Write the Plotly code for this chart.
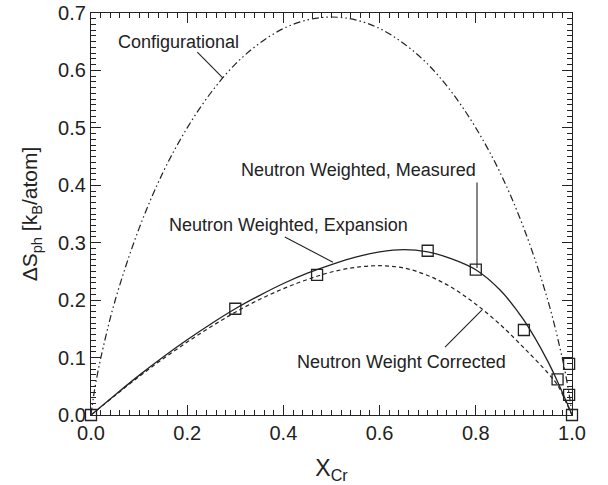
import plotly.graph_objects as go

# ---- data ----
x_curve = [0, 0.05, 0.1, 0.15, 0.2, 0.25, 0.3, 0.35, 0.4, 0.45, 0.5, 0.55,
           0.6, 0.65, 0.7, 0.75, 0.8, 0.85, 0.9, 0.95, 0.97, 0.99, 1.0]
y_expansion = [0, 0.035, 0.069, 0.101, 0.131, 0.159, 0.185, 0.208, 0.229, 0.247,
               0.262, 0.275, 0.284, 0.288, 0.284, 0.272, 0.253, 0.218, 0.165,
               0.093, 0.058, 0.02, 0]
y_corrected = [0, 0.034, 0.067, 0.098, 0.127, 0.154, 0.179, 0.201, 0.22, 0.236,
               0.249, 0.257, 0.26, 0.256, 0.243, 0.222, 0.193, 0.158, 0.117,
               0.073, 0.052, 0.018, 0]

x_config = [0, 0.005, 0.01, 0.02, 0.05, 0.1, 0.15, 0.2, 0.25, 0.3, 0.35, 0.4, 0.45, 0.5,
            0.55, 0.6, 0.65, 0.7, 0.75, 0.8, 0.85, 0.9, 0.95, 0.98, 0.99, 0.995, 1.0]
y_config = [0, 0.031, 0.056, 0.098, 0.199, 0.325, 0.423, 0.500, 0.562, 0.611, 0.647,
            0.673, 0.688, 0.693, 0.688, 0.673, 0.647, 0.611, 0.562, 0.500, 0.423,
            0.325, 0.199, 0.098, 0.056, 0.031, 0]

x_meas = [0.0, 0.30, 0.47, 0.70, 0.80, 0.90, 0.97, 0.994, 0.994, 1.0]
y_meas = [0.0, 0.185, 0.244, 0.286, 0.253, 0.148, 0.062, 0.089, 0.035, 0.0]

x_ticks = [0.0, 0.2, 0.4, 0.6, 0.8, 1.0]
y_ticks = [0.0, 0.1, 0.2, 0.3, 0.4, 0.5, 0.6, 0.7]

label_texts = ["Configurational", "Neutron Weighted, Measured",
               "Neutron Weighted, Expansion", "Neutron Weight Corrected"]
label_x = [0.181, 0.557, 0.41, 0.646]
label_y = [0.65, 0.427, 0.331, 0.092]
# leader lines: tip (on curve) and tail (near label)
tip_x = [0.274, 0.8025, 0.503, 0.813]
tip_y = [0.587, 0.256, 0.266, 0.183]
tail_x = [0.221, 0.8025, 0.403, 0.736]
tail_y = [0.632, 0.405, 0.310, 0.118]

FONT = "Liberation Sans, Arial, sans-serif"
INK = "#222222"

fig = go.Figure()
fig.add_trace(go.Scatter(x=x_config, y=y_config, mode="lines", line_shape="spline",
                         line=dict(color=INK, width=1.2, dash="7px,3px,1.5px,3px,1.5px,3px"),
                         showlegend=False, hoverinfo="skip"))
fig.add_trace(go.Scatter(x=x_curve, y=y_corrected, mode="lines", line_shape="spline",
                         line=dict(color=INK, width=1.2, dash="4px,3px"),
                         showlegend=False, hoverinfo="skip"))
fig.add_trace(go.Scatter(x=x_curve, y=y_expansion, mode="lines", line_shape="spline",
                         line=dict(color=INK, width=1.3),
                         showlegend=False, hoverinfo="skip"))
fig.add_trace(go.Scatter(x=x_meas, y=y_meas, mode="markers", cliponaxis=False,
                         marker=dict(symbol="square-open", size=11, color=INK,
                                     line=dict(width=1.3, color=INK)),
                         showlegend=False))

for t, x, y in zip(label_texts, label_x, label_y):
    fig.add_annotation(x=x, y=y, text=t, showarrow=False,
                       font=dict(family=FONT, size=18, color=INK))

for x0, y0, x1, y1 in zip(tail_x, tail_y, tip_x, tip_y):
    fig.add_shape(type="line", xref="x", yref="y", x0=x0, y0=y0, x1=x1, y1=y1,
                  line=dict(color=INK, width=1.1))

axis_common = dict(showline=True, linecolor=INK, linewidth=1.3, mirror="allticks",
                   ticks="inside", ticklen=10, tickwidth=1.2, tickcolor=INK,
                   showgrid=False, zeroline=False, automargin=False,
                   tickfont=dict(family=FONT, size=20, color=INK))

fig.update_xaxes(range=[0, 1], tickvals=x_ticks, tickformat=".1f",
                 minor=dict(dtick=0.02, ticklen=5, tickwidth=1, tickcolor=INK, ticks="inside"),
                 title=dict(text="X<sub>Cr</sub>", font=dict(family=FONT, size=23, color=INK),
                            standoff=16),
                 **axis_common)
fig.update_yaxes(range=[0, 0.7], tickvals=y_ticks, tickformat=".1f",
                 minor=dict(dtick=0.01, ticklen=5, tickwidth=1, tickcolor=INK, ticks="inside"),
                 title=dict(text="\u0394S<sub>ph</sub> [k<sub>B</sub>/atom]",
                            font=dict(family=FONT, size=21, color=INK), standoff=14),
                 **axis_common)

fig.update_layout(width=608, height=485, margin=dict(l=91, r=36, t=13, b=70),
                  plot_bgcolor="white", paper_bgcolor="white")

fig.write_html("out.html")
